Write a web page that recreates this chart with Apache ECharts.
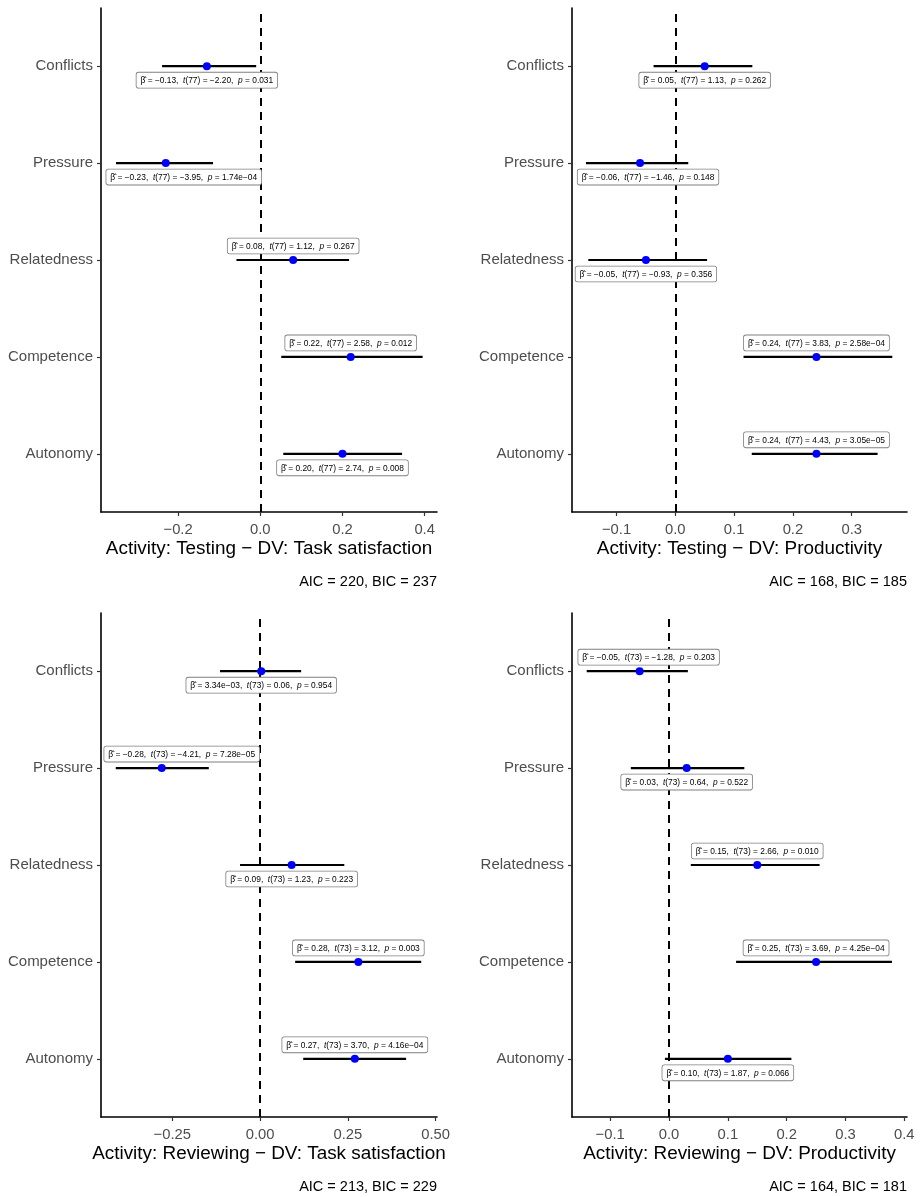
<!DOCTYPE html>
<html>
<head>
<meta charset="utf-8">
<title>Regression coefficients</title>
<script src="https://cdn.jsdelivr.net/npm/echarts@6/dist/echarts.min.js"></script>
<style>
  html, body { margin: 0; padding: 0; background: #ffffff; }
  #chart { width: 922px; height: 1197px; }
</style>
</head>
<body>
<div id="chart"></div>
<script>
// Predictors, bottom (y = 1) to top (y = 5)
const categories = ['Autonomy', 'Competence', 'Relatedness', 'Pressure', 'Conflicts'];

// Activity: Testing, DV: Task satisfaction
const testSatEst  = [0.20, 0.22, 0.08, -0.23, -0.13];
const testSatLow  = [0.056, 0.051, -0.058, -0.351, -0.239];
const testSatHigh = [0.345, 0.395, 0.216, -0.115, -0.010];
const testSatT    = [2.74, 2.58, 1.12, -3.95, -2.20];
const testSatP    = ['0.008', '0.012', '0.267', '1.74e\u221204', '0.031'];

// Activity: Testing, DV: Productivity
const testProdEst  = [0.24, 0.24, -0.05, -0.06, 0.05];
const testProdLow  = [0.130, 0.116, -0.148, -0.152, -0.037];
const testProdHigh = [0.344, 0.369, 0.054, 0.022, 0.131];
const testProdT    = [4.43, 3.83, -0.93, -1.46, 1.13];
const testProdP    = ['3.05e\u221205', '2.58e\u221204', '0.356', '0.148', '0.262'];

// Activity: Reviewing, DV: Task satisfaction
const revSatEst  = [0.27, 0.28, 0.09, -0.28, 0.00334];
const revSatLow  = [0.123, 0.100, -0.057, -0.411, -0.114];
const revSatHigh = [0.416, 0.459, 0.240, -0.146, 0.117];
const revSatT    = [3.70, 3.12, 1.23, -4.21, 0.06];
const revSatP    = ['4.16e\u221204', '0.003', '0.223', '7.28e\u221205', '0.954'];

// Activity: Reviewing, DV: Productivity
const revProdEst  = [0.10, 0.25, 0.15, 0.03, -0.05];
const revProdLow  = [-0.007, 0.114, 0.037, -0.065, -0.140];
const revProdHigh = [0.208, 0.379, 0.256, 0.128, 0.032];
const revProdT    = [1.87, 3.69, 2.66, 0.64, -1.28];
const revProdP    = ['0.066', '4.25e\u221204', '0.010', '0.522', '0.203'];

// Residual degrees of freedom and model fit
const dfValues  = [77, 77, 73, 73];
const aicValues = [220, 168, 213, 164];
const bicValues = [237, 185, 229, 181];

// Axis titles and tick marks
const panelTitles = [
  'Activity: Testing \u2212 DV: Task satisfaction',
  'Activity: Testing \u2212 DV: Productivity',
  'Activity: Reviewing \u2212 DV: Task satisfaction',
  'Activity: Reviewing \u2212 DV: Productivity'
];
const ticksTestSat  = [-0.2, 0.0, 0.2, 0.4];
const ticksTestProd = [-0.1, 0.0, 0.1, 0.2, 0.3];
const ticksRevSat   = [-0.25, 0.00, 0.25, 0.50];
const ticksRevProd  = [-0.1, 0.0, 0.1, 0.2, 0.3, 0.4];
const tickDecimals  = [1, 1, 2, 1];

// ---------------------------------------------------------------------------
const panels = [
  { est: testSatEst,  low: testSatLow,  high: testSatHigh,  t: testSatT,  p: testSatP,  ticks: ticksTestSat },
  { est: testProdEst, low: testProdLow, high: testProdHigh, t: testProdT, p: testProdP, ticks: ticksTestProd },
  { est: revSatEst,   low: revSatLow,   high: revSatHigh,   t: revSatT,   p: revSatP,   ticks: ticksRevSat },
  { est: revProdEst,  low: revProdLow,  high: revProdHigh,  t: revProdT,  p: revProdP,  ticks: ticksRevProd }
];

// Plot regions and x ranges
const layout = [
  { left: 101, top: 8,   width: 336, height: 504, xmin: -0.3876, xmax: 0.430 },
  { left: 572, top: 8,   width: 335, height: 504, xmin: -0.1757, xmax: 0.394 },
  { left: 101, top: 613, width: 336, height: 504, xmin: -0.453,  xmax: 0.504 },
  { left: 572, top: 613, width: 335, height: 504, xmin: -0.165,  xmax: 0.4046 }
];

// Where each coefficient label sits relative to its point: side (-1 above, 1 below) and horizontal shift
const labelPlacement = [
  [[1, 0], [-1, 0], [-1, 0], [1, 18], [1, 0]],
  [[-1, 0], [-1, 0], [1, 0], [1, 8], [1, 0]],
  [[-1, 0], [-1, 0], [1, 0], [-1, 20], [1, 0]],
  [[1, 0], [-1, 0], [-1, 0], [1, 0], [-1, 9]]
];

const FONT = '"Liberation Sans", Arial, Helvetica, sans-serif';
const MINUS = '\u2212';

function signed(v, d) {
  return (v < 0 ? MINUS : '') + Math.abs(v).toFixed(d);
}
function fmtEstimate(v) {
  if (v !== 0 && Math.abs(v) < 0.01) {
    const parts = Math.abs(v).toExponential(2).split('e');
    const exp = parseInt(parts[1], 10);
    const e = (exp < 0 ? MINUS : '+') + String(Math.abs(exp)).padStart(2, '0');
    return (v < 0 ? MINUS : '') + parts[0] + 'e' + e;
  }
  return signed(v, 2);
}

const chart = echarts.init(document.getElementById('chart'), null, { renderer: 'canvas' });

const grids = [], xAxes = [], yAxes = [], series = [], graphics = [];

panels.forEach((pn, i) => {
  const L = layout[i];
  grids.push({ left: L.left, top: L.top, width: L.width, height: L.height, containLabel: false });

  xAxes.push({
    type: 'value', gridIndex: i, min: L.xmin, max: L.xmax,
    name: panelTitles[i], nameLocation: 'middle', nameGap: 27,
    nameTextStyle: { color: '#000000', fontSize: 18.9, fontFamily: FONT },
    splitLine: { show: false },
    axisLine: { show: true, onZero: false, lineStyle: { color: '#000000', width: 1.6 } },
    axisTick: { show: true, length: 4, customValues: pn.ticks, lineStyle: { color: '#333333', width: 1.2 } },
    axisLabel: {
      show: true, customValues: pn.ticks, margin: 10,
      color: '#4d4d4d', fontSize: 14.8, fontFamily: FONT,
      formatter: v => signed(v, tickDecimals[i])
    }
  });

  yAxes.push({
    type: 'value', gridIndex: i, min: 0.4, max: 5.6,
    splitLine: { show: false },
    axisLine: { show: true, onZero: false, lineStyle: { color: '#000000', width: 1.6 } },
    axisTick: { show: true, length: 4, customValues: [1, 2, 3, 4, 5], lineStyle: { color: '#333333', width: 1.2 } },
    axisLabel: {
      show: true, customValues: [1, 2, 3, 4, 5], margin: 8,
      color: '#4d4d4d', fontSize: 15, fontFamily: FONT,
      formatter: v => categories[Math.round(v) - 1] || ''
    }
  });

  const rows = categories.map((c, k) => [pn.est[k], k + 1, pn.low[k], pn.high[k], k]);

  // Confidence intervals, plus the reference line at zero
  series.push({
    type: 'custom', xAxisIndex: i, yAxisIndex: i, z: 2, silent: true,
    data: rows, encode: { x: [0, 2, 3], y: 1 },
    renderItem: (params, api) => {
      const a = api.coord([api.value(2), api.value(1)]);
      const b = api.coord([api.value(3), api.value(1)]);
      return {
        type: 'line',
        shape: { x1: a[0], y1: a[1], x2: b[0], y2: b[1] },
        style: { stroke: '#000000', lineWidth: 2.2 }
      };
    },
    markLine: {
      silent: true, symbol: ['none', 'none'], animation: false, z: 2,
      label: { show: false },
      lineStyle: { color: '#000000', width: 2, type: [8, 6] },
      emphasis: { disabled: true },
      data: [{ xAxis: 0 }]
    }
  });

  // Point estimates
  series.push({
    type: 'scatter', xAxisIndex: i, yAxisIndex: i, z: 6, silent: true,
    symbol: 'circle', symbolSize: 8,
    itemStyle: { color: '#0000ff', opacity: 1 },
    data: rows.map(r => [r[0], r[1]])
  });

  // Coefficient labels
  series.push({
    type: 'custom', xAxisIndex: i, yAxisIndex: i, z: 10, silent: true,
    data: rows, encode: { x: 0, y: 1 },
    renderItem: (params, api) => {
      const k = api.value(4);
      const pt = api.coord([api.value(0), api.value(1)]);
      const place = labelPlacement[i][k];
      const txt = '\u03B2\u0302 = ' + fmtEstimate(pn.est[k]) +
        ',  {i|t}(' + dfValues[i] + ') = ' + signed(pn.t[k], 2) +
        ',  {i|p} = ' + pn.p[k];
      return {
        type: 'text',
        x: pt[0] + place[1],
        y: pt[1] + place[0] * 14,
        style: {
          text: txt,
          fontSize: 8.4, fontFamily: FONT, fill: '#000000',
          align: 'center', verticalAlign: 'middle',
          backgroundColor: '#ffffff',
          borderColor: '#7f7f7f', borderWidth: 0.8, borderRadius: 2,
          padding: [4, 4, 3, 4],
          rich: { i: { fontStyle: 'italic', fontSize: 8.4, fontFamily: FONT, fill: '#000000' } }
        }
      };
    }
  });

  // Model fit note under each panel
  graphics.push({
    type: 'text', right: 922 - (L.left + L.width), top: L.top + L.height + 62,
    style: {
      text: 'AIC = ' + aicValues[i] + ', BIC = ' + bicValues[i],
      fontSize: 14.5, fontFamily: FONT, fill: '#000000'
    }
  });
});

chart.setOption({
  backgroundColor: '#ffffff',
  animation: false,
  grid: grids,
  xAxis: xAxes,
  yAxis: yAxes,
  series: series,
  graphic: graphics
});
</script>
</body>
</html>
